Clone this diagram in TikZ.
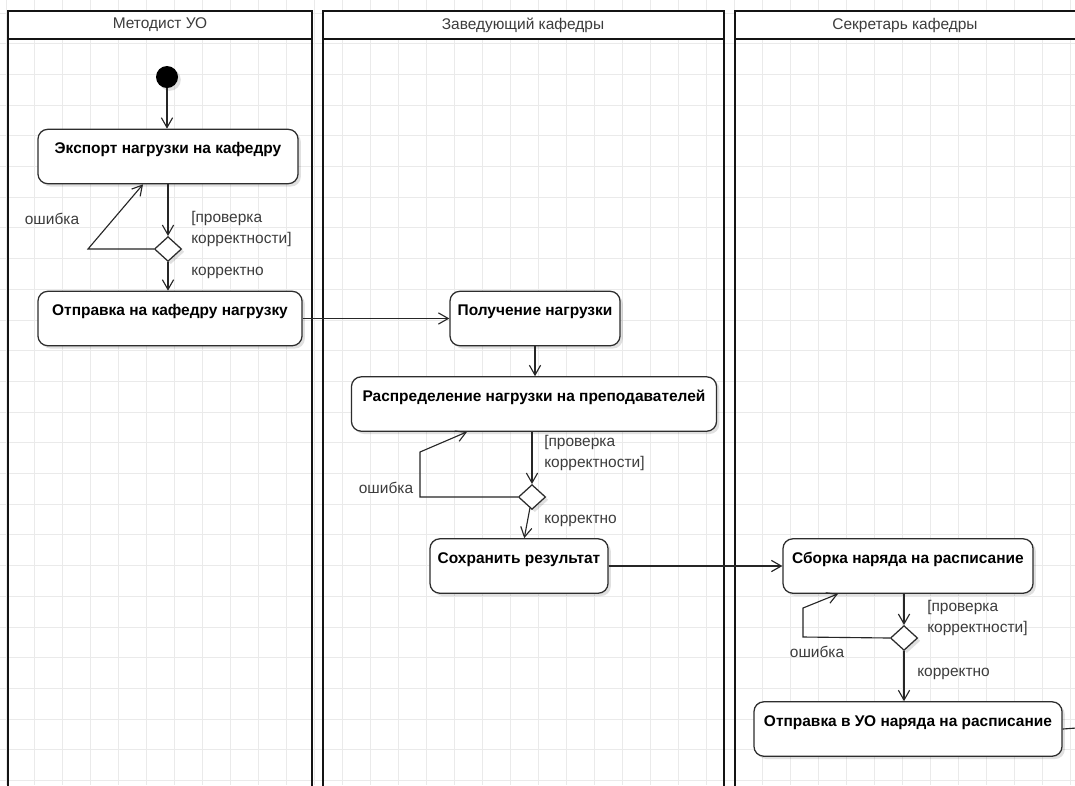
\documentclass[tikz,border=0pt]{standalone}
\usepackage{fontspec}
\setmainfont{Liberation Sans}
\usetikzlibrary{arrows.meta,shapes.geometric,shadows}
\definecolor{LaneLine}{RGB}{20,20,20}
\definecolor{GridLine}{RGB}{234,234,234}
\definecolor{BoxLine}{RGB}{45,45,45}
\definecolor{NoteText}{RGB}{60,60,60}

\tikzset{
  lane/.style={draw=LaneLine,line width=1.8pt},
  lanehead/.style={font=\fontsize{11}{13}\selectfont,text=NoteText,inner sep=1pt},
  action/.style={draw=BoxLine,line width=0.9pt,rounded corners=7pt,fill=white,
    minimum height=1.36cm,inner sep=2pt,text height=8pt,text depth=12pt,
    font=\fontsize{11}{13}\selectfont\bfseries,
    drop shadow={shadow xshift=2pt,shadow yshift=-2pt,fill=black,opacity=0.12}},
  choice/.style={diamond,draw=BoxLine,line width=0.9pt,fill=white,inner sep=0pt,
    minimum width=0.68cm,minimum height=0.62cm,
    drop shadow={shadow xshift=2pt,shadow yshift=-2pt,fill=black,opacity=0.12}},
  start/.style={circle,fill=black,inner sep=0pt,minimum size=0.55cm,
    drop shadow={shadow xshift=2pt,shadow yshift=-2pt,fill=black,opacity=0.12}},
  flow/.style={-{Straight Barb[length=7pt,width=8pt]},line width=0.8pt,draw=black!85},
  note/.style={font=\fontsize{11}{15}\selectfont,text=NoteText,align=left,inner sep=0pt},
}

\begin{document}
\begin{tikzpicture}[x=0.025cm,y=-0.025cm]
  \clip (0,0) rectangle (1075,785);
  \fill[white] (0,0) rectangle (1075,785);

  % background grid
  \foreach \gx in {0,...,38} \draw[GridLine,line width=0.6pt] (6+28*\gx,0) -- (6+28*\gx,785);
  \foreach \gy in {0,...,25} \draw[GridLine,line width=0.6pt] (0,13+30.7*\gy) -- (1075,13+30.7*\gy);

  % swimlanes
  \draw[lane] (8,11) rectangle (312,800);
  \draw[lane] (323,11) rectangle (724,800);
  \draw[lane] (735,11) rectangle (1100,800);
  \draw[lane,fill=white] (8,11) rectangle (312,39);
  \draw[lane,fill=white] (323,11) rectangle (724,39);
  \draw[lane,fill=white] (735,11) rectangle (1100,39);
  \node[lanehead] (h1) at (160,25) {Методист УО};
  \node[lanehead] (h2) at (523,25) {Заведующий кафедры};
  \node[lanehead] (h3) at (905,25) {Секретарь кафедры};

  % Методист УО
  \node[start] (init) at (167,77) {};
  \node[action,minimum width=6.5cm] (exp) at (168,156.5) {Экспорт нагрузки на кафедру};
  \node[choice] (dec1) at (168,249) {};
  \node[action,minimum width=6.6cm] (send1) at (170,318.5) {Отправка на кафедру нагрузку};

  % Заведующий кафедры
  \node[action,minimum width=4.25cm] (poluch) at (535,318.5) {Получение нагрузки};
  \node[action,minimum width=9.125cm] (raspr) at (534,404) {Распределение нагрузки на преподавателей};
  \node[choice] (dec2) at (532,497) {};
  \node[action,minimum width=4.45cm] (save) at (519,566) {Сохранить результат};

  % Секретарь кафедры
  \node[action,minimum width=6.25cm] (sborka) at (908,566) {Сборка наряда на расписание};
  \node[choice] (dec3) at (904,638) {};
  \node[action,minimum width=7.7cm] (otpr) at (908,729) {Отправка в УО наряда на расписание};

  % bends
  \coordinate (e1a) at (88,249);
  \coordinate (e1t) at (143,0);
  \coordinate (e2a) at (420,497);
  \coordinate (e2b) at (420,452);
  \coordinate (e2t) at (467,0);
  \coordinate (e3a) at (803,637);
  \coordinate (e3b) at (803,608);
  \coordinate (e3t) at (838,0);
  \coordinate (out) at (1090,727);

  % flows
  \draw[flow] (init) -- (init |- exp.north);
  \draw[flow] (exp) -- (dec1);
  \draw[flow] (dec1.west) -- (e1a) -- (e1t |- exp.south);
  \draw[flow] (dec1.south) -- (dec1.south |- send1.north);
  \draw[flow] (send1) -- (poluch);
  \draw[flow] (poluch.south) -- (poluch.south |- raspr.north);
  \draw[flow] (raspr.south -| dec2) -- (dec2.north);
  \draw[flow] (dec2.west) -- (e2a) -- (e2b) -- (e2t |- raspr.south);
  \draw[flow] (dec2) -- (save);
  \draw[flow] (save) -- (sborka);
  \draw[flow] (sborka.south -| dec3) -- (dec3.north);
  \draw[flow] (dec3.west) -- (e3a) -- (e3b) -- (e3t |- sborka.south);
  \draw[flow] (dec3.south) -- (dec3.south |- otpr.north);
  \draw[line width=0.8pt,black!85] (otpr.east) -- (out);

  % guard labels
  \node[note] (err1) at (52,219) {ошибка};
  \node[note,anchor=west] (chk1) at (191,229) {[проверка\\корректности]};
  \node[note,anchor=west] (ok1) at (191,273) {корректно};
  \node[note] (err2) at (386,488) {ошибка};
  \node[note,anchor=west] (chk2) at (544,453) {[проверка\\корректности]};
  \node[note,anchor=west] (ok2) at (544,521) {корректно};
  \node[note] (err3) at (817,652) {ошибка};
  \node[note,anchor=west] (chk3) at (927,618) {[проверка\\корректности]};
  \node[note,anchor=west] (ok3) at (917,674) {корректно};
\end{tikzpicture}
\end{document}
